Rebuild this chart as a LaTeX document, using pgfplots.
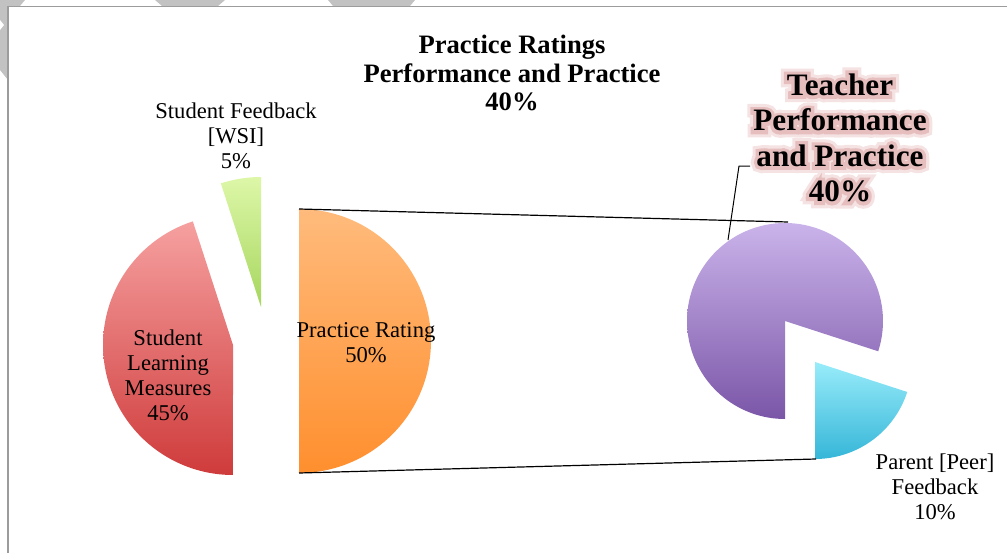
\documentclass[border=0pt]{standalone}
\usepackage{pgfplots}
\pgfplotsset{compat=1.18}
\usepackage{fontspec}
\setmainfont{Liberation Serif}
\newfontfamily\glowfontA{Liberation Serif Bold}[FakeBold=42]
\newfontfamily\glowfontB{Liberation Serif Bold}[FakeBold=22]
\definecolor{redA}{HTML}{F6A0A0}
\definecolor{redB}{HTML}{CF3B3B}
\definecolor{orA}{HTML}{FFBB7C}
\definecolor{orB}{HTML}{FF8F2E}
\definecolor{grA}{HTML}{DDF7A8}
\definecolor{grB}{HTML}{A6D65E}
\definecolor{puA}{HTML}{CAB3EA}
\definecolor{puB}{HTML}{7B56A8}
\definecolor{cyA}{HTML}{98ECFA}
\definecolor{cyB}{HTML}{36B6D8}
\definecolor{glowA}{HTML}{F5E2E2}
\definecolor{glowB}{HTML}{E6BEBE}
\definecolor{frame}{HTML}{9C9C9C}
\definecolor{stripe}{HTML}{C2C2C2}
\newcommand{\teachertext}{Teacher\\Performance\\and Practice\\40\%}
\begin{document}
\begin{tikzpicture}
\begin{axis}[width=503.5pt, height=276.5pt, scale only axis,
  xmin=0, xmax=1007, ymin=0, ymax=553, hide axis, clip=false]
% background stripes outside the frame
\addplot[draw=none, fill=stripe] coordinates {(0,553) (25,553) (20,547) (8,547) (8,473) (0,483)} -- cycle;
\addplot[draw=none, fill=white] coordinates {(0,533) (4,528) (0,523)} -- cycle;
\addplot[draw=none, fill=stripe] coordinates {(155,553) (225,553) (218,547) (162,547)} -- cycle;
\addplot[draw=none, fill=stripe] coordinates {(328,553) (415,553) (410,547) (333,547)} -- cycle;
% frame
\addplot[frame, line width=0.75pt] coordinates {(8,0) (8,546.5) (1007,546.5)};
% main pie (values: 45, 5, 50 percent)
% Student Learning Measures 45% -> 162 deg, from 108 to 270
\addplot[draw=none, top color=redA, bottom color=redB, domain=108:270, samples=90, variable=\t]
  ({233+130*cos(t)},{208+130*sin(t)}) -- (axis cs:233,208) -- cycle;
% Student Feedback 5% -> 18 deg, from 90 to 108
\addplot[draw=none, top color=grA, bottom color=grB, domain=90:108, samples=20, variable=\t]
  ({261+130*cos(t)},{246+130*sin(t)}) -- (axis cs:261,246) -- cycle;
% Practice Rating 50% -> 180 deg, from -90 to 90
\addplot[draw=none, top color=orA, bottom color=orB, domain=-90:90, samples=90, variable=\t]
  ({299+132*cos(t)},{212+132*sin(t)}) -- (axis cs:299,212) -- cycle;
% secondary pie (40 of 50 -> 80%, 10 of 50 -> 20%)
\addplot[draw=none, top color=puA, bottom color=puB, domain=-18:270, samples=120, variable=\t]
  ({785+98*cos(t)},{232+98*sin(t)}) -- (axis cs:785,232) -- cycle;
\addplot[draw=none, top color=cyA, bottom color=cyB, domain=-90:-18, samples=40, variable=\t]
  ({815+97*cos(t)},{191+97*sin(t)}) -- (axis cs:815,191) -- cycle;
% connector lines
\addplot[black, line width=0.6pt] coordinates {(299,344) (788,331)};
\addplot[black, line width=0.6pt] coordinates {(299,80) (816,94)};
% leader line
\addplot[black, line width=0.5pt] coordinates {(750,387) (739,387) (728,313)};
% labels
\node[align=center, font=\fontsize{13.3}{14.2}\selectfont\bfseries] at (axis cs:512,480)
  {Practice Ratings\\Performance and Practice\\40\%};
\node[align=center, font=\fontsize{11.3}{12.5}\selectfont] at (axis cs:236,417)
  {Student Feedback\\{[WSI]}\\5\%};
\node[align=center, font=\fontsize{11.3}{12.5}\selectfont] at (axis cs:168,177.5)
  {Student\\Learning\\Measures\\45\%};
\node[align=center, font=\fontsize{11.3}{12.5}\selectfont] at (axis cs:366,210)
  {Practice Rating\\50\%};
\node[align=center, font=\fontsize{11.3}{12.5}\selectfont] at (axis cs:935,66)
  {Parent [Peer]\\Feedback\\10\%};
% glowing label
\node[align=center, text=glowA, font=\glowfontA\fontsize{15.6}{17.7}\selectfont] at (axis cs:840,415) {\teachertext};
\node[align=center, text=glowB, font=\glowfontB\fontsize{15.6}{17.7}\selectfont] at (axis cs:840,415) {\teachertext};
\node[align=center, font=\fontsize{15.6}{17.7}\selectfont\bfseries] at (axis cs:840,415) {\teachertext};
\end{axis}
\pgfresetboundingbox
\path (current axis.south west) rectangle (current axis.north east);
\end{tikzpicture}
\end{document}
